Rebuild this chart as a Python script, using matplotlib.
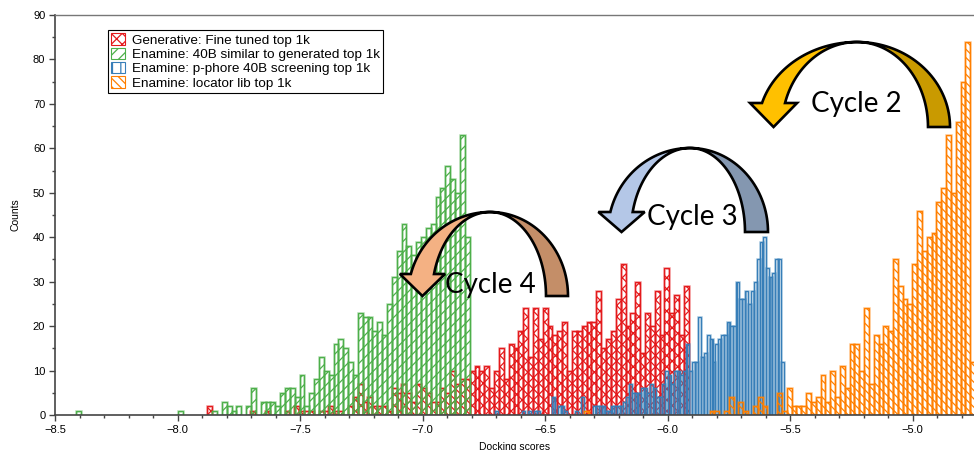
import numpy as np
import matplotlib
matplotlib.use("Agg")
import matplotlib.pyplot as plt
from matplotlib.patches import Polygon
from matplotlib.colors import to_rgba

# Histogram counts, one list per library.
# Each histogram: left edge of the first bin and the bin width (docking score units).
red_start, red_width = -7.881, 0.01988
red_counts = [2, 0, 0, 0, 0, 0, 0, 0, 0, 1, 0, 0, 1, 0, 0, 0, 1, 0, 2, 1,
              1, 1, 0, 1, 1, 2, 1, 1, 0, 2, 4, 7, 3, 4, 2, 2, 2, 1, 6, 5,
              7, 5, 3, 7, 6, 5, 3, 3, 6, 5, 10, 7, 8, 8, 10, 11, 10, 11, 6, 10,
              15, 8, 16, 15, 19, 24, 13, 24, 17, 24, 20, 18, 19, 21, 10, 19, 19, 20, 21, 21,
              28, 15, 17, 19, 26, 34, 20, 23, 30, 14, 23, 20, 28, 18, 33, 23, 27, 18, 29]

green_start, green_width = -8.414, 0.01983
green_counts = [1, 0, 0, 0, 0, 0, 0, 0, 0, 0, 0, 0, 0, 0, 0, 0, 0, 0, 0, 0,
                0, 1, 0, 0, 0, 0, 0, 0, 1, 0, 3, 2, 1, 2, 0, 2, 6, 0, 3, 3,
                3, 2, 5, 6, 6, 4, 9, 2, 5, 8, 13, 10, 9, 16, 17, 15, 12, 9, 23, 22,
                22, 19, 21, 18, 25, 31, 37, 43, 38, 36, 39, 40, 42, 43, 49, 51, 56, 53, 50, 63,
                40]

blue_start, blue_width = -6.704, 0.01216
blue_counts = [1, 0, 0, 0, 0, 0, 0, 0, 0, 1, 0, 1, 0, 1, 1, 0, 0, 0, 0, 4,
               0, 2, 2, 1, 0, 0, 0, 1, 0, 4, 0, 0, 0, 2, 2, 2,
               2, 1, 1, 2, 2, 2, 2, 3, 4, 7, 5, 5, 5, 6, 6, 5, 7, 6, 4, 4,
               7, 10, 9, 7, 10, 10, 9,
               10, 16, 10, 12, 12, 22, 13, 14, 18, 17, 12, 16, 17, 18, 18, 21, 20, 20, 30, 26,
               26, 28, 25, 28, 30, 35, 39, 40, 33, 31, 32, 35, 35, 12]

orange_start, orange_width = -6.341, 0.01971
orange_counts = [1, 0, 0, 0, 0, 0, 0, 0, 0, 0, 0, 0, 0, 0, 0, 0, 0, 0, 0, 0,
                 0, 0, 0, 0, 0, 0, 1, 1, 0, 1, 4, 0, 3, 1, 0, 2, 4, 2, 0, 0,
                 5, 1, 6, 2, 2, 2, 5, 3, 4, 9, 3, 10, 4, 11, 6, 16, 16, 10, 24, 7,
                 18, 16, 20, 19, 35, 29, 26, 25, 34, 46, 37, 40, 41, 48, 51, 63, 50, 66, 75, 84,
                 12]

labels = ["Generative: Fine tuned top 1k",
          "Enamine: 40B similar to generated top 1k",
          "Enamine: p-phore 40B screening top 1k",
          "Enamine: locator lib top 1k"]

plt.rcParams['font.family'] = ['Liberation Sans', 'DejaVu Sans']
plt.rcParams['hatch.linewidth'] = 0.9

W, H = 974, 450


def draw_hist(ax, start, width, counts, color, hatch, label):
    """hatched, unfilled histogram bars from a list of bin counts"""
    counts = np.array(counts)
    edges = start + width * np.arange(len(counts))
    keep = counts > 0
    # soft outline first, then the hatched bars on top
    ax.bar(edges[keep], counts[keep], width=width, align='edge',
           facecolor='none', edgecolor=to_rgba(color, 0.45), linewidth=1.8,
           zorder=2)
    ax.bar(edges[keep], counts[keep], width=width, align='edge',
           facecolor='none', edgecolor=color, linewidth=0.8,
           hatch=hatch, label=label, zorder=2)


def to_fig(pts):
    # pixel coords of the picture (y going down) -> figure fraction
    return [(x / W, 1 - y / H) for x, y in pts]


def cycle_arrow(fig, cx, cy, b, r_out, r_in, l_out, l_in, base_y, ext, light, dark):
    """ribbon-like curved arrow going from right to left over the top"""
    t = np.linspace(0, np.pi / 2, 40)
    back = [(cx + r_out * np.cos(a), cy - b * np.sin(a)) for a in t[::-1]]
    back += [(cx + r_in * np.cos(a), cy - b * np.sin(a)) for a in t]
    t_end = np.pi - np.arcsin((cy - base_y) / b)
    t2 = np.linspace(np.pi / 2, t_end, 40)
    front = [(cx + l_out * np.cos(a), cy - b * np.sin(a)) for a in t2]
    xo = cx + l_out * np.cos(t_end)
    xi = cx + l_in * np.cos(t_end)
    front += [(xo - ext, base_y), ((xo + xi) / 2, cy), (xi + ext, base_y)]
    front += [(cx + l_in * np.cos(a), cy - b * np.sin(a)) for a in t2[::-1]]
    for pts, col in [(back, dark), (front, light)]:
        fig.patches.append(Polygon(to_fig(pts), closed=True, facecolor=col,
                                   edgecolor='black', linewidth=1.9,
                                   transform=fig.transFigure, zorder=3))


fig = plt.figure(figsize=(9.74, 4.5), dpi=100)
ax = fig.add_axes([55 / W, 35 / H, 919 / W, 400 / H])

draw_hist(ax, red_start, red_width, red_counts, '#e41a1c', 'xxx', labels[0])
draw_hist(ax, green_start, green_width, green_counts, '#4daf4a', '///', labels[1])
draw_hist(ax, blue_start, blue_width, blue_counts, '#377eb8', '||', labels[2])
draw_hist(ax, orange_start, orange_width, orange_counts, '#ff7f00', '\\\\\\\\', labels[3])

ax.set_xlim(-8.5, -4.749)
ax.set_ylim(0, 90)
ax.set_xticks(np.arange(-8.5, -4.7, 0.5))
ax.set_xticks(np.arange(-8.5, -4.7, 0.1), minor=True)
ax.set_yticks(np.arange(0, 91, 10))
ax.set_yticks(np.arange(5, 90, 10), minor=True)
ax.tick_params(which='both', direction='out', width=1, color='#444',
               labelsize=8, pad=3)
ax.tick_params(which='major', length=4)
ax.tick_params(which='minor', length=2.5)
for side in ['left', 'bottom']:
    ax.spines[side].set_color('#444')
    ax.spines[side].set_linewidth(1.2)
ax.spines['top'].set_color('#777')
ax.spines['top'].set_linewidth(1.0)
ax.spines['right'].set_visible(False)
ax.set_xlabel('Docking scores', fontsize=7.5, labelpad=5)
ax.set_ylabel('Counts', fontsize=7.5, labelpad=9)

leg = ax.legend(loc='upper left', bbox_to_anchor=(0.0577, 0.9625),
                fancybox=False, edgecolor='black', framealpha=1,
                fontsize=9.7, borderpad=0.25, labelspacing=0.08,
                handlelength=1.0, handleheight=0.9, handletextpad=0.5,
                borderaxespad=0)
leg.get_frame().set_linewidth(0.8)
leg.set_zorder(5)

# annotation arrows for the design cycles
cycle_arrow(fig, 857, 127, 85, 93, 71, 99, 75, 103, 12, '#ffc000', '#c99a00')
cycle_arrow(fig, 690, 232, 84, 78, 55, 82, 59, 212, 12, '#b4c7e7', '#8497b0')
cycle_arrow(fig, 490, 296, 84, 78, 56, 82, 58, 274, 11, '#f4b183', '#c48e68')

for txt, x, y in [("Cycle 2", 856, 104), ("Cycle 3", 692, 217), ("Cycle 4", 490, 285)]:
    fig.text(x / W, 1 - y / H, txt, fontsize=20, family=['Lato', 'DejaVu Sans'],
             ha='center', va='center', zorder=4)

plt.savefig('out.png', dpi=100)
